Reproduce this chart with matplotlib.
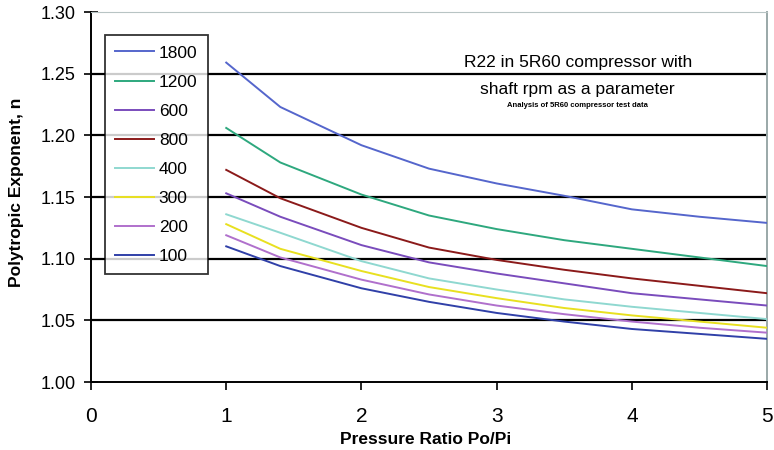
import numpy as np
import matplotlib.pyplot as plt

plt.rcParams['font.family'] = ['Liberation Sans', 'DejaVu Sans']

pressure_ratio = [1, 1.4, 2, 2.5, 3, 3.5, 4, 4.5, 5]

rpm_labels = ["1800", "1200", "600", "800", "400", "300", "200", "100"]
n_1800 = [1.259, 1.223, 1.192, 1.173, 1.161, 1.151, 1.140, 1.134, 1.129]
n_1200 = [1.206, 1.178, 1.152, 1.135, 1.124, 1.115, 1.108, 1.101, 1.094]
n_600 = [1.153, 1.134, 1.111, 1.097, 1.088, 1.080, 1.072, 1.067, 1.062]
n_800 = [1.172, 1.149, 1.125, 1.109, 1.099, 1.091, 1.084, 1.078, 1.072]
n_400 = [1.136, 1.121, 1.098, 1.084, 1.075, 1.067, 1.061, 1.056, 1.051]
n_300 = [1.128, 1.108, 1.090, 1.077, 1.068, 1.060, 1.054, 1.049, 1.044]
n_200 = [1.119, 1.101, 1.083, 1.071, 1.062, 1.055, 1.049, 1.044, 1.040]
n_100 = [1.110, 1.094, 1.076, 1.065, 1.056, 1.049, 1.043, 1.039, 1.035]

series = [n_1800, n_1200, n_600, n_800, n_400, n_300, n_200, n_100]
colors = ["#5566cc", "#2ea87e", "#7a4cbc", "#8b1a1a", "#8fd8d0", "#e8e020", "#b070cc", "#3040a8"]

fig = plt.figure(figsize=(7.74, 4.5), dpi=100)
ax = fig.add_axes([0.1176, 0.1511, 0.8734, 0.8222])

for lab, vals, c in zip(rpm_labels, series, colors):
    ax.plot(pressure_ratio, vals, color=c, lw=1.4, label=lab, zorder=3)

ax.set_xlim(0, 5)
ax.set_ylim(1.0, 1.3)
ax.set_xticks(np.arange(0, 6, 1))
ax.set_yticks(np.arange(1.0, 1.31, 0.05))
ax.set_yticklabels([f"{v:.2f}" for v in np.arange(1.0, 1.31, 0.05)])

for g in [1.05, 1.10, 1.15, 1.20, 1.25]:
    ax.axhline(g, color="black", lw=1.6, zorder=1)

ax.spines["left"].set_linewidth(1.4)
ax.spines["bottom"].set_linewidth(1.4)
ax.spines["top"].set_color("#b8c4c4")
ax.spines["right"].set_color("#9aa8a8")
ax.spines["right"].set_linewidth(1.4)

ax.tick_params(axis="y", direction="inout", length=10, width=1.2, labelsize=13, pad=6)
ax.tick_params(axis="x", direction="out", length=6, width=1.2, labelsize=15, pad=12)

ax.set_ylabel("Polytropic Exponent, n", fontweight="bold", fontsize=12.5)
ax.yaxis.set_label_coords(-0.099, 0.514)
ax.set_xlabel("Pressure Ratio Po/Pi", fontweight="bold", fontsize=12.5)
ax.xaxis.set_label_coords(0.495, -0.135)

ax.text(3.60, 1.259, "R22 in 5R60 compressor with", ha="center", va="center", fontsize=12.5)
ax.text(3.60, 1.2368, "shaft rpm as a parameter", ha="center", va="center", fontsize=12.5)
ax.text(3.60, 1.2238, "Analysis of 5R60 compressor test data", ha="center", va="center",
        fontsize=5.5, fontweight="bold")

leg = ax.legend(loc="upper left", bbox_to_anchor=(105 / 774, 1 - 35 / 450),
                bbox_transform=fig.transFigure, fontsize=12.5, frameon=True,
                fancybox=False, edgecolor="black", handlelength=2.2,
                labelspacing=0.8, borderpad=0.6, handletextpad=0.3, borderaxespad=0)
leg.get_frame().set_linewidth(1.3)
leg.set_zorder(5)

fig.savefig("out.png", dpi=100)
